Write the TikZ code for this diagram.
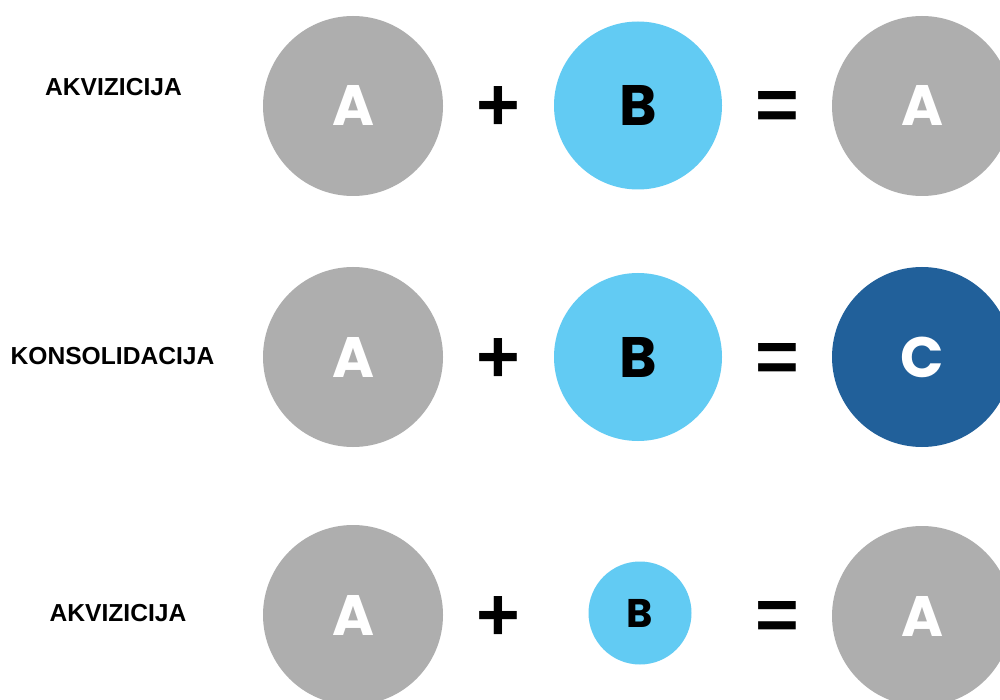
\documentclass[tikz,border=0pt]{standalone}
\usepackage{fontspec}
\setmainfont{Liberation Sans}
\newfontfamily\popb{Poppins}[UprightFont=* Bold]
\definecolor{cgrey}{HTML}{AEAEAE}
\definecolor{cblue}{HTML}{62CBF3}
\definecolor{cdark}{HTML}{21609A}
\begin{document}
\begin{tikzpicture}[x=1pt,y=-1pt,
  ball/.style={circle,inner sep=0pt,minimum size=#1},
  lbl/.style={font=\fontsize{24.6}{25}\selectfont\bfseries,text=black},
  plus/.style={font=\fontsize{75}{75}\selectfont\bfseries,text=black,inner sep=0pt},
  equ/.style={font=\fontsize{75}{75}\selectfont\bfseries,text=black,inner sep=0pt},
  big/.style={font=\popb\fontsize{57}{57}\selectfont,text height=40pt,text depth=0pt},
  small/.style={font=\popb\fontsize{40}{40}\selectfont,text height=28pt,text depth=0pt}]
\useasboundingbox[fill=white] (0,0) rectangle (1000,700);
% row 1
\node[lbl] (l1) at (113.5,87) {AKVIZICIJA};
\node[ball=180pt,fill=cgrey,text=white,big] (a1) at (353,106) {A};
\node[plus] (p1) at (498,109) {+};
\node[ball=168pt,fill=cblue,text=black,big] (b1) at (638,105.5) {B};
\node[equ] (e1) at (777.5,111) {=};
\node[ball=180pt,fill=cgrey,text=white,big] (r1) at (922,106) {A};
% row 2
\node[lbl] (l2) at (112.5,356) {KONSOLIDACIJA};
\node[ball=180pt,fill=cgrey,text=white,big] (a2) at (353,357) {A};
\node[plus] (p2) at (498,361) {+};
\node[ball=168pt,fill=cblue,text=black,big] (b2) at (638,357) {B};
\node[equ] (e2) at (777.5,363) {=};
\node[ball=180pt,fill=cdark,text=white,big] (r2) at (922,357) {C};
% row 3
\node[lbl] (l3) at (118,613) {AKVIZICIJA};
\node[ball=180pt,fill=cgrey,text=white,big] (a3) at (353,615) {A};
\node[plus] (p3) at (498,619) {+};
\node[ball=103pt,fill=cblue,text=black,small] (b3) at (640,613) {B};
\node[equ] (e3) at (777.5,621) {=};
\node[ball=180pt,fill=cgrey,text=white,big] (r3) at (922,616) {A};
\end{tikzpicture}
\end{document}
